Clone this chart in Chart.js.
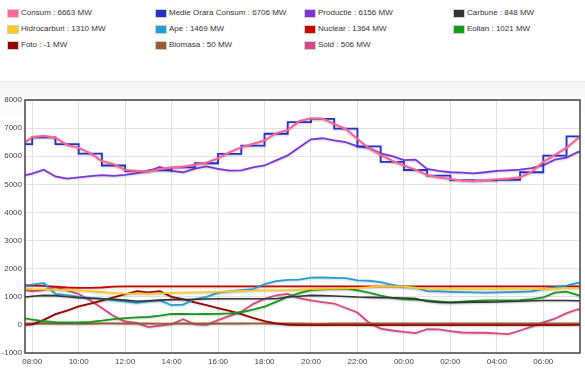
<!DOCTYPE html>
<html>
<head>
<meta charset="utf-8">
<script src="https://cdn.jsdelivr.net/npm/chart.js@4.4.1/dist/chart.umd.min.js"></script>
<style>
  body { margin: 0; width: 585px; height: 374px; background: #fff; font-family: Arial, "Liberation Sans", sans-serif; overflow: hidden; position: relative; }
  #legend { position: absolute; left: 0; top: 0; width: 585px; height: 81px; }
  .item { position: absolute; font-size: 8px; color: #333; line-height: 10px; white-space: nowrap; }
  .item span.box { position: absolute; left: -14px; top: 1px; width: 10px; height: 7px; border: 1px solid #d0d0d0; }
  #wrap { position: absolute; left: 0; top: 81px; width: 585px; height: 293px; border-top: 1px solid #e4e4e4;
          background: linear-gradient(#f4f4f4, #fbfbfb 20px, #fff 40px); }
  canvas { position: absolute; left: 0; top: 0; }
</style>
</head>
<body>
<div id="legend"></div>
<div id="wrap"><canvas id="chart" width="585" height="292"></canvas></div>
<script>
// half-hour samples, first one is 07:42 of the previous morning
const times = ["07:42","08:00","08:30","09:00","09:30","10:00","10:30","11:00","11:30","12:00","12:30",
  "13:00","13:30","14:00","14:30","15:00","15:30","16:00","16:30","17:00","17:30","18:00","18:30",
  "19:00","19:30","20:00","20:30","21:00","21:30","22:00","22:30","23:00","23:30","00:00","00:30",
  "01:00","01:30","02:00","02:30","03:00","03:30","04:00","04:30","05:00","05:30","06:00","06:30",
  "07:00","07:30","07:35"];

const consum = [6500,6680,6720,6660,6400,6300,6110,5830,5720,5510,5480,5450,5540,5600,5630,5700,
  5770,5930,6140,6320,6440,6560,6820,6930,7250,7350,7340,7150,6970,6620,6280,6050,5840,5670,5520,
  5330,5250,5190,5130,5110,5150,5180,5200,5250,5450,5800,6050,6300,6650,6663];
const productie = [5330,5380,5520,5280,5200,5250,5290,5330,5300,5340,5400,5470,5620,5480,5430,5560,
  5640,5550,5490,5500,5600,5670,5850,6030,6320,6600,6640,6560,6500,6350,6300,6100,6000,5860,5880,
  5550,5480,5430,5420,5390,5430,5480,5500,5520,5580,5680,5880,5950,6150,6156];
const carbune = [990,1020,1050,1040,1000,970,950,930,910,880,840,860,880,900,900,910,920,930,930,930,
  930,930,930,990,1020,1050,1040,1030,1010,990,980,970,965,958,935,840,800,790,800,810,810,815,830,
  840,860,870,870,870,860,848];
const hidrocarburi = [1300,1270,1260,1250,1240,1230,1200,1170,1140,1115,1110,1110,1120,1140,1150,1160,
  1165,1175,1190,1210,1220,1240,1230,1240,1250,1270,1280,1290,1300,1310,1340,1380,1370,1360,1320,
  1280,1270,1270,1270,1270,1270,1270,1270,1270,1270,1270,1290,1310,1310,1310];
const ape = [1420,1430,1490,1100,1060,1000,960,930,870,840,780,840,870,700,720,920,1000,1150,1200,1240,
  1270,1450,1560,1600,1610,1680,1685,1670,1660,1580,1570,1520,1420,1360,1330,1200,1190,1176,1165,
  1155,1150,1155,1165,1175,1190,1280,1330,1400,1500,1469];
const nuclear = [1400,1400,1390,1360,1330,1320,1320,1330,1360,1370,1370,1370,1370,1370,1370,1370,
  1370,1370,1370,1370,1370,1370,1370,1370,1370,1370,1370,1370,1370,1370,1370,1370,1370,1370,1370,
  1370,1370,1370,1370,1370,1370,1370,1370,1370,1370,1370,1370,1370,1365,1364];
const eolian = [230,190,130,100,90,85,110,150,205,240,267,280,327,388,388,380,388,390,410,450,540,650,
  820,1000,1130,1236,1260,1280,1290,1230,1150,1040,960,910,900,870,840,812,830,850,870,870,875,880,
  920,980,1150,1180,1060,1021];
const foto = [0,20,180,380,510,660,760,860,980,1090,1200,1160,1200,1000,920,800,700,600,500,380,250,
  130,50,5,-10,-10,-10,-10,-10,-10,-10,-10,-10,-10,-10,-10,-10,-10,-10,-10,-10,-10,-10,-10,-10,-10,
  -10,-5,-2,-1];
const biomasa = [50,50,50,48,48,50,50,52,52,50,50,50,48,48,50,50,50,50,50,50,52,52,50,50,50,48,48,50,
  50,50,50,50,50,50,50,50,50,50,50,50,50,50,50,50,50,50,50,50,50,50];
const sold = [1240,1200,1240,1340,1230,1100,880,600,320,120,70,-80,-30,30,200,20,0,170,320,470,740,
  930,1050,1100,950,870,810,760,600,440,80,-130,-200,-250,-290,-150,-160,-220,-270,-280,-280,-300,
  -330,-200,-60,90,220,420,560,506];

// hourly average, held until the next hour
const medieTimes = ["07:42","08:00","09:00","10:00","11:00","12:00","13:00","14:00","15:00","16:00",
  "17:00","18:00","19:00","20:00","21:00","22:00","23:00","00:00","01:00","02:00","03:00","04:00",
  "05:00","06:00","07:00","07:35"];
const medie = [6430,6670,6430,6090,5670,5470,5500,5600,5750,6080,6380,6800,7210,7330,6980,6350,5800,
  5510,5310,5150,5140,5160,5430,6020,6706,6706];

const tickLabels = ["08:00","10:00","12:00","14:00","16:00","18:00","20:00","22:00","00:00","02:00","04:00","06:00"];

function toHour(s, i) {
  const [hh, mm] = s.split(":").map(Number);
  let h = hh + mm / 60 - 8;
  if (h < 0 && i > 0) h += 24;
  return h;
}
const xs = times.map(toHour);
const medieXs = medieTimes.map(toHour);
const pts = vals => vals.map((v, i) => ({ x: xs[i], y: v }));

const series = [
  { label: "Consum", data: consum, color: "#ff6699", width: 2.2 },
  { label: "Medie Orara Consum", data: medie, color: "#2233cc", width: 1.8, hourly: true },
  { label: "Productie", data: productie, color: "#7a35d8", width: 1.8 },
  { label: "Carbune", data: carbune, color: "#333333", width: 1.6 },
  { label: "Hidrocarburi", data: hidrocarburi, color: "#ffc926", width: 1.8 },
  { label: "Ape", data: ape, color: "#1e9fd8", width: 1.8 },
  { label: "Nuclear", data: nuclear, color: "#cc0000", width: 1.8 },
  { label: "Eolian", data: eolian, color: "#139a1c", width: 1.8 },
  { label: "Foto", data: foto, color: "#990000", width: 1.8 },
  { label: "Biomasa", data: biomasa, color: "#9a5a2c", width: 1.8 },
  { label: "Sold", data: sold, color: "#d94680", width: 1.8 }
];

// legend built by hand, 4 columns
const legend = document.getElementById("legend");
const colX = [21, 169, 318, 467];
series.forEach((s, i) => {
  const div = document.createElement("div");
  div.className = "item";
  div.style.left = colX[i % 4] + "px";
  div.style.top = (8 + Math.floor(i / 4) * 16) + "px";
  const last = s.data[s.data.length - 1];
  div.innerHTML = `<span class="box" style="background:${s.color}"></span>${s.label} : ${last} MW`;
  legend.appendChild(div);
});

const frame = {
  id: "frame",
  beforeDraw(chart) {
    const a = chart.chartArea, ctx = chart.ctx;
    ctx.save();
    ctx.fillStyle = "#fff";
    ctx.fillRect(a.left, a.top, a.right - a.left, a.bottom - a.top);
    ctx.restore();
  },
  // soft shadow under every line, like the original
  beforeDatasetDraw(chart) {
    const ctx = chart.ctx;
    ctx.save();
    ctx.shadowColor = "rgba(0,0,0,0.18)";
    ctx.shadowBlur = 2;
    ctx.shadowOffsetY = 1;
  },
  afterDatasetDraw(chart) {
    chart.ctx.restore();
  },
  afterDraw(chart) {
    const a = chart.chartArea, ctx = chart.ctx;
    ctx.save();
    ctx.strokeStyle = "#444";
    ctx.lineWidth = 1.5;
    ctx.strokeRect(a.left, a.top, a.right - a.left, a.bottom - a.top);
    ctx.restore();
  }
};

new Chart(document.getElementById("chart"), {
  type: "line",
  data: {
    datasets: series.map(s => ({
      label: s.label,
      data: s.hourly ? s.data.map((v, i) => ({ x: medieXs[i], y: v })) : pts(s.data),
      borderColor: s.color,
      backgroundColor: s.color,
      borderWidth: s.width,
      pointRadius: 0,
      tension: 0,
      stepped: s.hourly ? "before" : false,
      fill: false
    }))
  },
  options: {
    responsive: false,
    animation: false,
    devicePixelRatio: 1,
    layout: { padding: { top: 18, right: 5, left: 0, bottom: 0 } },
    plugins: { legend: { display: false }, tooltip: { enabled: false } },
    scales: {
      x: {
        type: "linear",
        min: -0.31,
        max: 23.58,
        afterBuildTicks: scale => { scale.ticks = tickLabels.map((t, i) => ({ value: i * 2 })); },
        afterFit: scale => { scale.height = 21; },
        ticks: {
          callback: (v, i) => tickLabels[i],
          font: { size: 8, family: "Arial" },
          color: "#444",
          padding: 4,
          maxRotation: 0
        },
        grid: { color: "#e2e2e2", drawTicks: false },
        border: { display: false }
      },
      y: {
        min: -1000,
        max: 8000,
        afterFit: scale => { scale.width = 25; },
        ticks: { stepSize: 1000, callback: v => String(v), font: { size: 8, family: "Arial" }, color: "#444", padding: 3 },
        grid: { color: "#e2e2e2", drawTicks: false },
        border: { display: false }
      }
    }
  },
  plugins: [frame]
});
</script>
</body>
</html>
